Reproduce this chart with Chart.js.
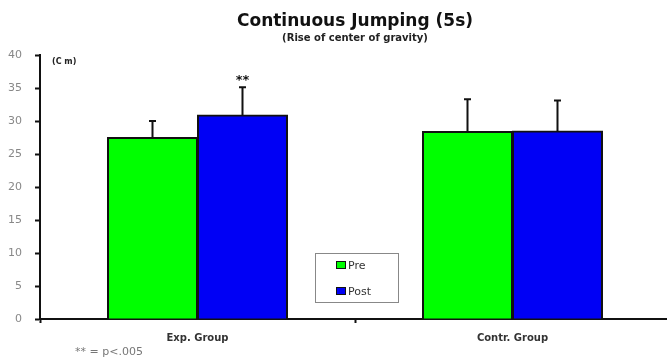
<!DOCTYPE html>
<html>
<head>
<meta charset="utf-8">
<style>
  html, body { margin: 0; padding: 0; background: #fff; overflow: hidden; }
  #wrap { width: 667px; height: 358px; overflow: hidden; }
</style>
<script src="https://cdn.jsdelivr.net/npm/chart.js@4/dist/chart.umd.min.js"></script>
</head>
<body>
<div id="wrap"><canvas id="c" width="670" height="358"></canvas></div>
<script>
// Groups and series
const categories = ['Exp. Group', 'Contr. Group'];
const seriesNames = ['Pre', 'Post'];
const preMeans = [27.5, 28.4];
const postMeans = [30.9, 28.5];
const preSD = [2.5, 4.9];
const postSD = [4.2, 4.6];
const preMarks = ['', ''];
const postMarks = ['**', ''];
const seriesColors = ['#00ff00', '#0000f5'];

// Axis and texts
const yMin = 0, yMax = 40, yStep = 5;
const titleText = 'Continuous Jumping (5s)';
const subtitleText = '(Rise of center of gravity)';
const unitText = '(C m)';
const footnoteText = '** = p<.005';

const sdArrays = [preSD, postSD];
const markArrays = [preMarks, postMarks];

// Upward error whiskers with caps, plus significance marks
const errorBars = {
  id: 'errorBars',
  afterDatasetsDraw(chart) {
    const ctx = chart.ctx;
    const y = chart.scales.y;
    ctx.save();
    chart.data.datasets.forEach((ds, i) => {
      const meta = chart.getDatasetMeta(i);
      meta.data.forEach((bar, j) => {
        const v = ds.data[j];
        const top = y.getPixelForValue(v + sdArrays[i][j]);
        const base = y.getPixelForValue(v);
        ctx.strokeStyle = '#111';
        ctx.lineWidth = 2;
        ctx.beginPath();
        ctx.moveTo(bar.x, base);
        ctx.lineTo(bar.x, top);
        ctx.moveTo(bar.x - 3.5, top);
        ctx.lineTo(bar.x + 3.5, top);
        ctx.stroke();
        const mark = markArrays[i][j];
        if (mark) {
          ctx.fillStyle = '#111';
          ctx.font = 'bold 13px "DejaVu Sans"';
          ctx.textAlign = 'center';
          ctx.textBaseline = 'middle';
          ctx.fillText(mark, bar.x, top - 7);
        }
      });
    });
    ctx.restore();
  }
};

// Boxed legend inside the plot, unit label and footnote
const extras = {
  id: 'extras',
  afterDraw(chart) {
    const ctx = chart.ctx;
    const area = chart.chartArea;
    ctx.save();
    // unit label next to the top of the value axis
    ctx.fillStyle = '#222';
    ctx.font = 'bold 8px "DejaVu Sans"';
    ctx.textAlign = 'left';
    ctx.textBaseline = 'middle';
    ctx.fillText(unitText, area.left + 12, area.top + 7);

    // legend box
    const lx = 315, ly = 253, lw = 83, lh = 49;
    ctx.fillStyle = '#fff';
    ctx.fillRect(lx, ly, lw, lh);
    ctx.strokeStyle = '#888';
    ctx.lineWidth = 1;
    ctx.strokeRect(lx + 0.5, ly + 0.5, lw, lh);
    chart.data.datasets.forEach((ds, i) => {
      const cy = ly + 12 + i * 26;
      ctx.fillStyle = ds.backgroundColor;
      ctx.fillRect(lx + 21, cy - 4, 10, 8);
      ctx.strokeStyle = '#111';
      ctx.strokeRect(lx + 21.5, cy - 3.5, 9, 7);
      ctx.fillStyle = '#333';
      ctx.font = '11px "DejaVu Sans"';
      ctx.textBaseline = 'middle';
      ctx.fillText(ds.label, lx + 33, cy + 1);
    });

    // footnote below the first group
    ctx.fillStyle = '#777';
    ctx.font = '11px "DejaVu Sans"';
    ctx.textAlign = 'left';
    ctx.fillText(footnoteText, 75, 352);
    ctx.restore();
  }
};

new Chart(document.getElementById('c'), {
  type: 'bar',
  data: {
    labels: categories,
    datasets: [
      { label: seriesNames[0], data: preMeans, backgroundColor: seriesColors[0],
        borderColor: '#111', borderWidth: 2, borderSkipped: 'bottom', inflateAmount: 0.5 },
      { label: seriesNames[1], data: postMeans, backgroundColor: seriesColors[1],
        borderColor: '#111', borderWidth: 2, borderSkipped: 'bottom', inflateAmount: 0.5 }
    ]
  },
  options: {
    responsive: false,
    animation: false,
    layout: { padding: 0 },
    datasets: { bar: { categoryPercentage: 0.5714, barPercentage: 1.0 } },
    plugins: {
      legend: { display: false },
      tooltip: { enabled: false },
      title: {
        display: true, text: titleText, fullSize: false, color: '#111',
        font: { family: 'DejaVu Sans', size: 17, weight: 'bold', lineHeight: 1.2 },
        padding: { top: 11, bottom: 1 }
      },
      subtitle: {
        display: true, text: subtitleText, fullSize: false, color: '#222',
        font: { family: 'DejaVu Sans', size: 10, weight: 'bold', lineHeight: 1.2 },
        padding: { top: 0, bottom: 10.6 }
      }
    },
    scales: {
      x: {
        offset: true,
        afterFit(scale) { scale.height = 39; },
        grid: { offset: true, drawOnChartArea: false, drawTicks: true, tickLength: 4,
                tickColor: '#111', tickWidth: 2 },
        border: { display: true, color: '#111', width: 2 },
        ticks: { color: '#333', padding: 9,
                 font: { family: 'DejaVu Sans', size: 10, weight: 'bold' } }
      },
      y: {
        min: yMin, max: yMax,
        afterFit(scale) { scale.width = 40; },
        grid: { drawOnChartArea: false, drawTicks: true, tickLength: 5,
                tickColor: '#111', tickWidth: 2 },
        border: { display: true, color: '#111', width: 2 },
        ticks: { stepSize: yStep, color: '#888', padding: 13,
                 font: { family: 'DejaVu Sans', size: 11 } }
      }
    }
  },
  plugins: [errorBars, extras]
});
</script>
</body>
</html>
